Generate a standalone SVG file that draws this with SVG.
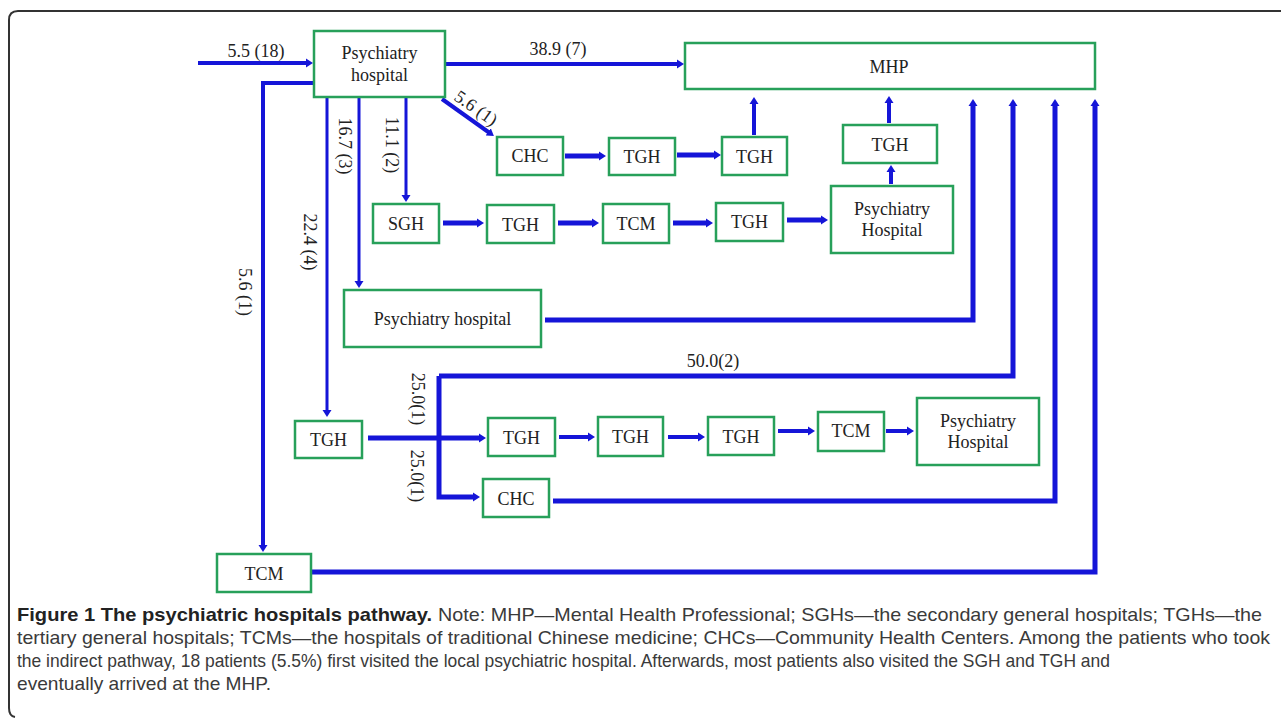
<svg xmlns="http://www.w3.org/2000/svg" width="1281" height="718" viewBox="0 0 1281 718">
<defs>
<marker id="ah" markerUnits="userSpaceOnUse" markerWidth="8" markerHeight="10" refX="1" refY="5" orient="auto">
<path d="M0,0.5 L7,5 L0,9.5 z" fill="#1515d8"/>
</marker>
<style>
.box{fill:#fff;stroke:#27a05a;stroke-width:2.5}
.t{font-family:"Liberation Serif","Times New Roman",serif;font-size:18px;fill:#222;text-anchor:middle}
.c{fill:none;stroke:#1515d8;stroke-linejoin:miter;stroke-linecap:butt}
.w5{stroke-width:5}
.w4{stroke-width:4}
.w3{stroke-width:3}
.arr{marker-end:url(#ah)}
.cap{font-family:"Liberation Sans",Arial,sans-serif;font-size:19px;fill:#3a3a3a}
.capb{font-family:"Liberation Sans",Arial,sans-serif;font-size:19px;font-weight:bold;fill:#222}
</style>
</defs>
<rect width="1281" height="718" fill="#fff"/>
<path d="M1281,11 H18 Q9,11 9,20 V708 Q9,716 15,717" fill="none" stroke="#333" stroke-width="2"/>

<g id="connectors">
<path class="c w4 arr" d="M198,63 H307"/>
<path class="c w4 arr" d="M445,64 H678"/>
<path class="c w4 arr" d="M313,83 H263 V546"/>
<path class="c w3 arr" d="M327,97 V411"/>
<path class="c w3 arr" d="M359,97 V282"/>
<path class="c w3 arr" d="M406,97 V196"/>
<path class="c w4 arr" d="M442,99 L489,132.5"/>
<path class="c w5 arr" d="M565,156 H600"/>
<path class="c w5 arr" d="M677,155 H715"/>
<path class="c w4 arr" d="M754,135 V103"/>
<path class="c w4 arr" d="M889,123 V102"/>
<path class="c w4 arr" d="M891,184 V171"/>
<path class="c w5 arr" d="M443,223 H478"/>
<path class="c w5 arr" d="M558,223 H593"/>
<path class="c w5 arr" d="M673,223 H707"/>
<path class="c w5 arr" d="M787,220 H822"/>
<path class="c w5 arr" d="M545,320 H973 V105"/>
<path class="c w5 arr" d="M439,376 V497 H474"/>
<path class="c w5 arr" d="M439,376 H1013 V105"/>
<path class="c w5 arr" d="M368,438 H480"/>
<path class="c w5 arr" d="M553,501 H1055 V105"/>
<path class="c w5 arr" d="M311,572 H1095 V105"/>
<path class="c w4 arr" d="M559,437 H589"/>
<path class="c w4 arr" d="M668,437 H699"/>
<path class="c w4 arr" d="M778,431 H809"/>
<path class="c w4 arr" d="M886,431 H908"/>
</g>

<g id="labels">
<text class="t" x="256" y="57">5.5 (18)</text>
<text class="t" x="558" y="55">38.9 (7)</text>
<text class="t" x="713" y="367">50.0(2)</text>
<text class="t" transform="translate(476,108) rotate(35)" x="0" y="6">5.6 (1)</text>
<text class="t" transform="translate(245,292) rotate(90)" x="0" y="6">5.6 (1)</text>
<text class="t" transform="translate(310,242) rotate(90)" x="0" y="6">22.4 (4)</text>
<text class="t" transform="translate(345,146) rotate(90)" x="0" y="6">16.7 (3)</text>
<text class="t" transform="translate(392,145) rotate(90)" x="0" y="6">11.1 (2)</text>
<text class="t" transform="translate(418,399) rotate(90)" x="0" y="6">25.0(1)</text>
<text class="t" transform="translate(417,476) rotate(90)" x="0" y="6">25.0(1)</text>
</g>

<g id="n_ph_top"><rect class="box" x="314" y="31" width="131" height="66"/><text class="t" x="379.5" y="59">Psychiatry</text><text class="t" x="379.5" y="81">hospital</text></g>
<g id="n_mhp"><rect class="box" x="685" y="43" width="410" height="46"/><text class="t" x="889" y="73">MHP</text></g>
<g id="n_chc1"><rect class="box" x="497" y="137" width="66" height="38"/><text class="t" x="530" y="162">CHC</text></g>
<g id="n_tgh1"><rect class="box" x="609" y="138" width="66" height="37"/><text class="t" x="642" y="163">TGH</text></g>
<g id="n_tgh2"><rect class="box" x="722" y="137" width="65" height="38"/><text class="t" x="754.5" y="163">TGH</text></g>
<g id="n_tgh3"><rect class="box" x="843" y="125" width="94" height="38"/><text class="t" x="890" y="151">TGH</text></g>
<g id="n_ph_right"><rect class="box" x="831" y="186" width="122" height="67"/><text class="t" x="892" y="215">Psychiatry</text><text class="t" x="892" y="236">Hospital</text></g>
<g id="n_sgh"><rect class="box" x="373" y="204" width="66" height="39"/><text class="t" x="406" y="230">SGH</text></g>
<g id="n_tgh4"><rect class="box" x="487" y="205" width="67" height="38"/><text class="t" x="520.5" y="231">TGH</text></g>
<g id="n_tcm1"><rect class="box" x="603" y="204" width="66" height="39"/><text class="t" x="636" y="230">TCM</text></g>
<g id="n_tgh5"><rect class="box" x="716" y="203" width="67" height="38"/><text class="t" x="749.5" y="228">TGH</text></g>
<g id="n_ph_mid"><rect class="box" x="344" y="290" width="197" height="57"/><text class="t" x="442.5" y="325">Psychiatry hospital</text></g>
<g id="n_tgh6"><rect class="box" x="295" y="421" width="67" height="37"/><text class="t" x="328.5" y="446">TGH</text></g>
<g id="n_tgh7"><rect class="box" x="488" y="418" width="67" height="38"/><text class="t" x="521.5" y="444">TGH</text></g>
<g id="n_tgh8"><rect class="box" x="598" y="417" width="65" height="39"/><text class="t" x="630.5" y="443">TGH</text></g>
<g id="n_tgh9"><rect class="box" x="708" y="417" width="66" height="38"/><text class="t" x="741" y="443">TGH</text></g>
<g id="n_tcm2"><rect class="box" x="818" y="412" width="66" height="39"/><text class="t" x="851" y="437">TCM</text></g>
<g id="n_ph_bottom"><rect class="box" x="917" y="398" width="122" height="67"/><text class="t" x="978" y="427">Psychiatry</text><text class="t" x="978" y="448">Hospital</text></g>
<g id="n_chc2"><rect class="box" x="483" y="479" width="66" height="38"/><text class="t" x="516" y="505">CHC</text></g>
<g id="n_tcm3"><rect class="box" x="217" y="554" width="94" height="38"/><text class="t" x="264" y="580">TCM</text></g>

<g id="caption">
<text class="capb" x="17" y="621" textLength="415" lengthAdjust="spacingAndGlyphs">Figure 1 The psychiatric hospitals pathway.</text>
<text class="cap" x="438" y="621" textLength="824" lengthAdjust="spacingAndGlyphs">Note: MHP—Mental Health Professional; SGHs—the secondary general hospitals; TGHs—the</text>
<text class="cap" x="17" y="644" textLength="1253" lengthAdjust="spacingAndGlyphs">tertiary general hospitals; TCMs—the hospitals of traditional Chinese medicine; CHCs—Community Health Centers. Among the patients who took</text>
<text class="cap" x="17" y="667" textLength="1093" lengthAdjust="spacingAndGlyphs">the indirect pathway, 18 patients (5.5%) first visited the local psychiatric hospital. Afterwards, most patients also visited the SGH and TGH and</text>
<text class="cap" x="17" y="690" textLength="254" lengthAdjust="spacingAndGlyphs">eventually arrived at the MHP.</text>
</g>
</svg>
